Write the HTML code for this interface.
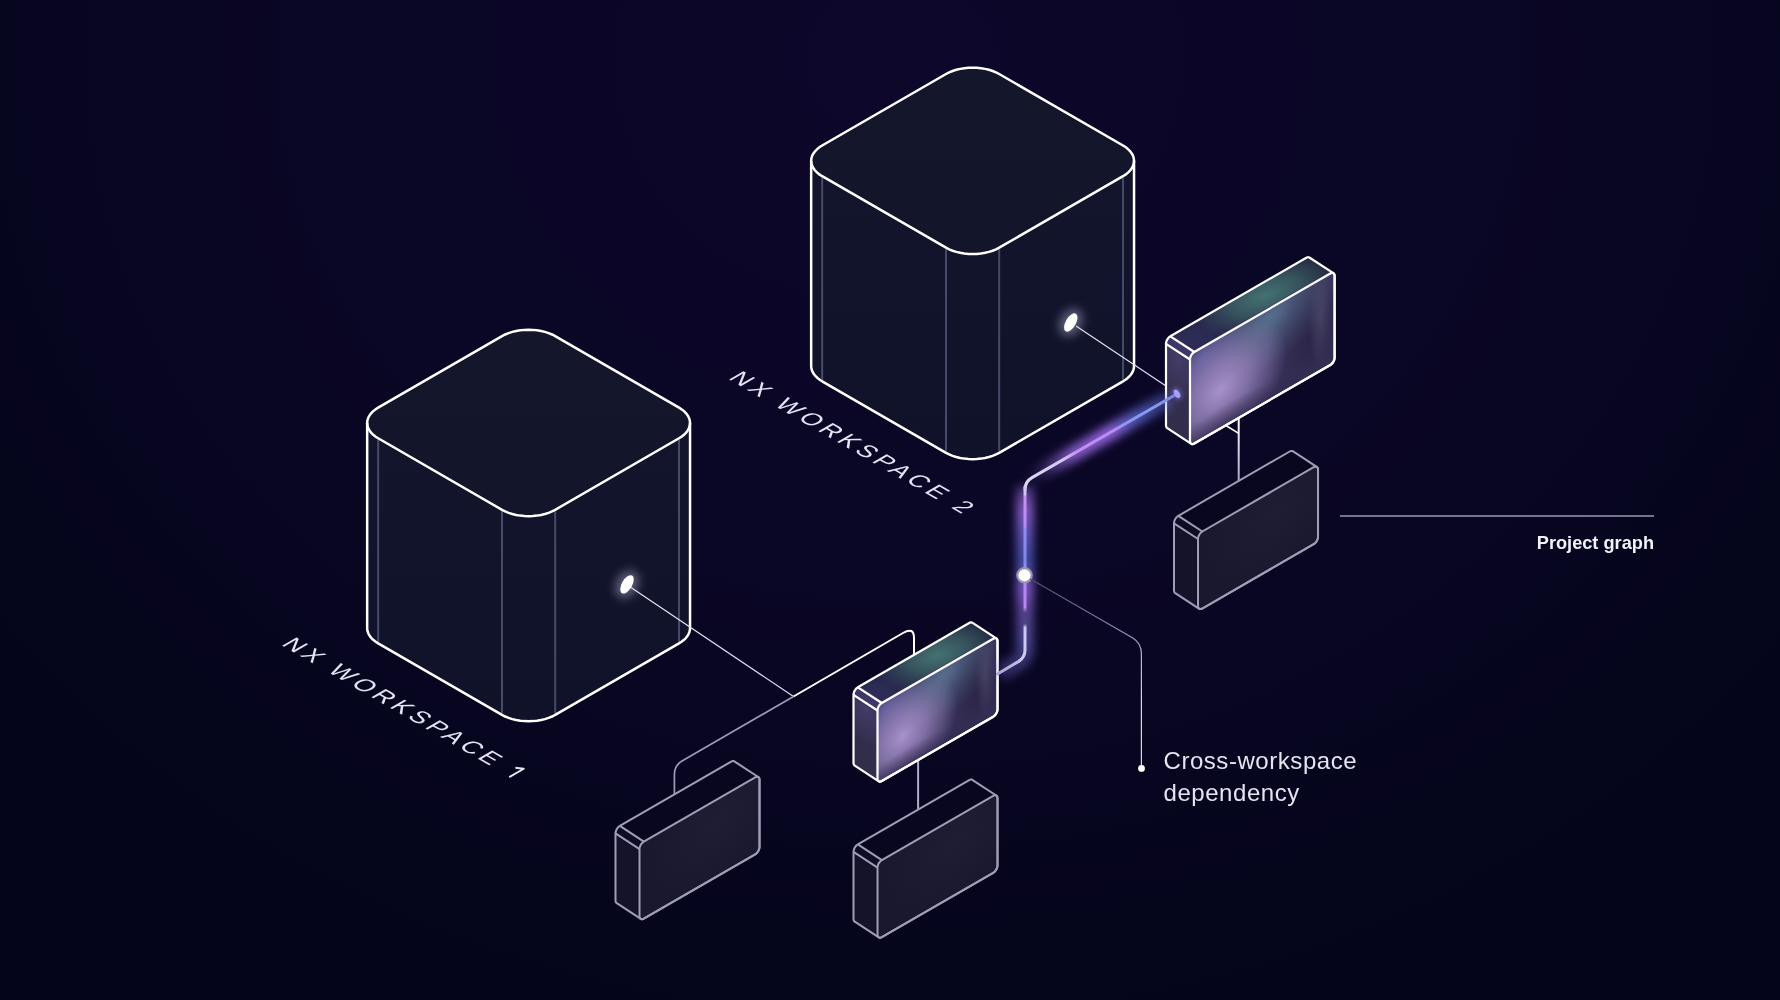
<!DOCTYPE html>
<html><head><meta charset="utf-8">
<style>
html,body{margin:0;padding:0;background:#05061a;}
body{width:1780px;height:1000px;overflow:hidden;position:relative;}
svg{position:absolute;left:0;top:0;display:block;}
.lbl{font-family:"Liberation Sans",sans-serif;}
</style></head><body>
<svg width="1780" height="1000" viewBox="0 0 1780 1000">
<defs>
  <radialGradient id="bg" gradientUnits="userSpaceOnUse" cx="0" cy="0" r="1" gradientTransform="translate(900 60) scale(1150 1000)">
    <stop offset="0" stop-color="#0d072b"/>
    <stop offset="0.5" stop-color="#0a0625"/>
    <stop offset="1" stop-color="#04051a"/>
  </radialGradient>
  <filter id="blur5" filterUnits="userSpaceOnUse" x="0" y="0" width="1780" height="1000"><feGaussianBlur stdDeviation="5"/></filter>
  <filter id="blur3" x="-100%" y="-100%" width="300%" height="300%"><feGaussianBlur stdDeviation="3.5"/></filter>
  <filter id="blur2" x="-100%" y="-100%" width="300%" height="300%"><feGaussianBlur stdDeviation="2"/></filter>
  <linearGradient id="cs1" gradientUnits="userSpaceOnUse" x1="0" y1="422.95" x2="0" y2="728.05"><stop offset="0" stop-color="#12152c"/><stop offset="1" stop-color="#0f1228"/></linearGradient><linearGradient id="ct2" gradientUnits="userSpaceOnUse" x1="0" y1="322.95" x2="0" y2="522.95"><stop offset="0" stop-color="#14172c"/><stop offset="1" stop-color="#13162b"/></linearGradient><linearGradient id="cs3" gradientUnits="userSpaceOnUse" x1="0" y1="160.85" x2="0" y2="465.95"><stop offset="0" stop-color="#12152c"/><stop offset="1" stop-color="#0f1228"/></linearGradient><linearGradient id="ct4" gradientUnits="userSpaceOnUse" x1="0" y1="60.85" x2="0" y2="260.85"><stop offset="0" stop-color="#14172c"/><stop offset="1" stop-color="#13162b"/></linearGradient><clipPath id="clip5"><path d="M1166 343.8 L1166.08 342.78 L1166.33 341.7 L1166.73 340.6 L1167.27 339.53 L1167.92 338.53 L1168.67 337.64 L1169.48 336.88 L1170.33 336.3 L1306.3 257.8 L1307.14 257.41 L1307.95 257.22 L1308.7 257.25 L1309.36 257.5 L1333.36 273.2 L1333.9 273.64 L1334.3 274.28 L1334.54 275.07 L1334.63 276 L1334.63 357.5 L1334.54 358.52 L1334.3 359.6 L1333.9 360.7 L1333.36 361.77 L1332.7 362.77 L1331.95 363.66 L1331.14 364.42 L1330.3 365 L1194.33 443.5 L1193.48 443.89 L1192.67 444.08 L1191.92 444.05 L1191.27 443.8 L1167.27 428.1 L1166.73 427.66 L1166.33 427.02 L1166.08 426.23 L1166 425.3 Z"/></clipPath><radialGradient id="rg6" gradientUnits="userSpaceOnUse" cx="0" cy="0" r="1" gradientTransform="matrix(0.8660 -0.5000 0.8660 0.5000 1166 338.8) translate(100.2 13.85) scale(70.14 41.55)"><stop offset="0" stop-color="#447272" stop-opacity="1.0"/><stop offset="0.5" stop-color="#447272" stop-opacity="0.6"/><stop offset="1" stop-color="#447272" stop-opacity="0.0"/></radialGradient><radialGradient id="rg7" gradientUnits="userSpaceOnUse" cx="0" cy="0" r="1" gradientTransform="matrix(0.8660 -0.5000 0.8660 0.5000 1166 338.8) translate(13.36 16.62) scale(53.44 41.55)"><stop offset="0" stop-color="#36336e" stop-opacity="0.6"/><stop offset="1" stop-color="#36336e" stop-opacity="0.0"/></radialGradient><radialGradient id="rg8" gradientUnits="userSpaceOnUse" cx="0" cy="0" r="1" gradientTransform="matrix(0.8660 0.5000 0.0000 1.0000 1166 338.8) translate(13.85 13.72) scale(36.01 41.18)"><stop offset="0" stop-color="#46406e" stop-opacity="0.8"/><stop offset="1" stop-color="#46406e" stop-opacity="0.0"/></radialGradient><radialGradient id="rg9" gradientUnits="userSpaceOnUse" cx="0" cy="0" r="1" gradientTransform="matrix(0.8660 -0.5000 0.0000 1.0000 1190 354.5) translate(91.85 9.15) scale(80.16 50.33)"><stop offset="0" stop-color="#58708f" stop-opacity="0.95"/><stop offset="1" stop-color="#58708f" stop-opacity="0.0"/></radialGradient><radialGradient id="rg10" gradientUnits="userSpaceOnUse" cx="0" cy="0" r="1" gradientTransform="matrix(0.8660 -0.5000 0.0000 1.0000 1190 354.5) translate(13.36 10.98) scale(50.1 45.75)"><stop offset="0" stop-color="#6462a4" stop-opacity="0.75"/><stop offset="1" stop-color="#6462a4" stop-opacity="0.0"/></radialGradient><radialGradient id="rg11" gradientUnits="userSpaceOnUse" cx="0" cy="0" r="1" gradientTransform="matrix(0.8660 -0.5000 0.0000 1.0000 1190 354.5) translate(140.28 53.07) scale(50.1 64.05)"><stop offset="0" stop-color="#221e3a" stop-opacity="0.6"/><stop offset="1" stop-color="#221e3a" stop-opacity="0.0"/></radialGradient><radialGradient id="rg12" gradientUnits="userSpaceOnUse" cx="0" cy="0" r="1" gradientTransform="matrix(0.8660 -0.5000 0.0000 1.0000 1190 354.5) translate(35.07 53.07) scale(76.82 58.56)"><stop offset="0" stop-color="#a892cc" stop-opacity="1.0"/><stop offset="0.45" stop-color="#a892cc" stop-opacity="0.62"/><stop offset="1" stop-color="#a892cc" stop-opacity="0.0"/></radialGradient><radialGradient id="rg13" gradientUnits="userSpaceOnUse" cx="0" cy="0" r="1" gradientTransform="matrix(0.8660 -0.5000 0.0000 1.0000 1190 354.5) translate(150.3 36.6) scale(13.36 50.33)"><stop offset="0" stop-color="#5a5878" stop-opacity="0.5"/><stop offset="1" stop-color="#5a5878" stop-opacity="0.0"/></radialGradient><radialGradient id="rg14" gradientUnits="userSpaceOnUse" cx="0" cy="0" r="1" gradientTransform="matrix(0.8660 -0.5000 0.0000 1.0000 1190 354.5) translate(46.76 96.99) scale(91.85 27.45)"><stop offset="0" stop-color="#2a2044" stop-opacity="0.8"/><stop offset="1" stop-color="#2a2044" stop-opacity="0.0"/></radialGradient><clipPath id="clip15"><path d="M1174 523.3 L1174.08 522.28 L1174.33 521.2 L1174.73 520.1 L1175.27 519.03 L1175.92 518.03 L1176.67 517.14 L1177.48 516.38 L1178.33 515.8 L1289.7 451.5 L1290.55 451.11 L1291.36 450.92 L1292.11 450.95 L1292.76 451.2 L1316.76 466.9 L1317.3 467.34 L1317.7 467.98 L1317.95 468.77 L1318.03 469.7 L1318.03 536.7 L1317.95 537.72 L1317.7 538.8 L1317.3 539.9 L1316.76 540.97 L1316.11 541.97 L1315.36 542.86 L1314.55 543.62 L1313.7 544.2 L1202.33 608.5 L1201.48 608.89 L1200.67 609.08 L1199.92 609.05 L1199.27 608.8 L1175.27 593.1 L1174.73 592.66 L1174.33 592.02 L1174.08 591.23 L1174 590.3 Z"/></clipPath><radialGradient id="rg16" gradientUnits="userSpaceOnUse" cx="0" cy="0" r="1" gradientTransform="matrix(0.8660 -0.5000 0.0000 1.0000 1198 534) translate(90.09 23.1) scale(83.16 61.6)"><stop offset="0" stop-color="#1f1e35" stop-opacity="0.9"/><stop offset="1" stop-color="#1f1e35" stop-opacity="0.0"/></radialGradient><clipPath id="clip17"><path d="M853.5 694.8 L853.58 693.78 L853.83 692.7 L854.23 691.6 L854.77 690.53 L855.42 689.53 L856.17 688.64 L856.99 687.88 L857.83 687.3 L969.2 623 L970.05 622.61 L970.86 622.42 L971.61 622.45 L972.26 622.7 L996.26 638.4 L996.8 638.84 L997.2 639.48 L997.45 640.27 L997.53 641.2 L997.53 709.2 L997.45 710.22 L997.2 711.3 L996.8 712.4 L996.26 713.47 L995.61 714.47 L994.86 715.36 L994.05 716.12 L993.2 716.7 L881.83 781 L880.99 781.39 L880.17 781.58 L879.42 781.55 L878.77 781.3 L854.77 765.6 L854.23 765.16 L853.83 764.52 L853.58 763.73 L853.5 762.8 Z"/></clipPath><radialGradient id="rg18" gradientUnits="userSpaceOnUse" cx="0" cy="0" r="1" gradientTransform="matrix(0.8660 -0.5000 0.8660 0.5000 853.5 689.8) translate(83.16 13.85) scale(58.21 41.55)"><stop offset="0" stop-color="#447272" stop-opacity="1.0"/><stop offset="0.5" stop-color="#447272" stop-opacity="0.6"/><stop offset="1" stop-color="#447272" stop-opacity="0.0"/></radialGradient><radialGradient id="rg19" gradientUnits="userSpaceOnUse" cx="0" cy="0" r="1" gradientTransform="matrix(0.8660 -0.5000 0.8660 0.5000 853.5 689.8) translate(11.09 16.62) scale(44.35 41.55)"><stop offset="0" stop-color="#36336e" stop-opacity="0.6"/><stop offset="1" stop-color="#36336e" stop-opacity="0.0"/></radialGradient><radialGradient id="rg20" gradientUnits="userSpaceOnUse" cx="0" cy="0" r="1" gradientTransform="matrix(0.8660 0.5000 0.0000 1.0000 853.5 689.8) translate(13.85 11.7) scale(36.01 35.1)"><stop offset="0" stop-color="#46406e" stop-opacity="0.8"/><stop offset="1" stop-color="#46406e" stop-opacity="0.0"/></radialGradient><radialGradient id="rg21" gradientUnits="userSpaceOnUse" cx="0" cy="0" r="1" gradientTransform="matrix(0.8660 -0.5000 0.0000 1.0000 877.5 705.5) translate(76.23 7.8) scale(66.53 42.9)"><stop offset="0" stop-color="#58708f" stop-opacity="0.95"/><stop offset="1" stop-color="#58708f" stop-opacity="0.0"/></radialGradient><radialGradient id="rg22" gradientUnits="userSpaceOnUse" cx="0" cy="0" r="1" gradientTransform="matrix(0.8660 -0.5000 0.0000 1.0000 877.5 705.5) translate(11.09 9.36) scale(41.58 39)"><stop offset="0" stop-color="#6462a4" stop-opacity="0.75"/><stop offset="1" stop-color="#6462a4" stop-opacity="0.0"/></radialGradient><radialGradient id="rg23" gradientUnits="userSpaceOnUse" cx="0" cy="0" r="1" gradientTransform="matrix(0.8660 -0.5000 0.0000 1.0000 877.5 705.5) translate(116.42 45.24) scale(41.58 54.6)"><stop offset="0" stop-color="#221e3a" stop-opacity="0.6"/><stop offset="1" stop-color="#221e3a" stop-opacity="0.0"/></radialGradient><radialGradient id="rg24" gradientUnits="userSpaceOnUse" cx="0" cy="0" r="1" gradientTransform="matrix(0.8660 -0.5000 0.0000 1.0000 877.5 705.5) translate(29.11 45.24) scale(63.76 49.92)"><stop offset="0" stop-color="#a892cc" stop-opacity="1.0"/><stop offset="0.45" stop-color="#a892cc" stop-opacity="0.62"/><stop offset="1" stop-color="#a892cc" stop-opacity="0.0"/></radialGradient><radialGradient id="rg25" gradientUnits="userSpaceOnUse" cx="0" cy="0" r="1" gradientTransform="matrix(0.8660 -0.5000 0.0000 1.0000 877.5 705.5) translate(124.74 31.2) scale(11.09 42.9)"><stop offset="0" stop-color="#5a5878" stop-opacity="0.5"/><stop offset="1" stop-color="#5a5878" stop-opacity="0.0"/></radialGradient><radialGradient id="rg26" gradientUnits="userSpaceOnUse" cx="0" cy="0" r="1" gradientTransform="matrix(0.8660 -0.5000 0.0000 1.0000 877.5 705.5) translate(38.81 82.68) scale(76.23 23.4)"><stop offset="0" stop-color="#2a2044" stop-opacity="0.8"/><stop offset="1" stop-color="#2a2044" stop-opacity="0.0"/></radialGradient><clipPath id="clip27"><path d="M853.5 851.9 L853.58 850.88 L853.83 849.8 L854.23 848.7 L854.77 847.63 L855.42 846.63 L856.17 845.74 L856.99 844.98 L857.83 844.4 L969.2 780.1 L970.05 779.71 L970.86 779.52 L971.61 779.55 L972.26 779.8 L996.26 795.5 L996.8 795.94 L997.2 796.58 L997.45 797.37 L997.53 798.3 L997.53 865.3 L997.45 866.32 L997.2 867.4 L996.8 868.5 L996.26 869.57 L995.61 870.57 L994.86 871.46 L994.05 872.22 L993.2 872.8 L881.83 937.1 L880.99 937.49 L880.17 937.68 L879.42 937.65 L878.77 937.4 L854.77 921.7 L854.23 921.26 L853.83 920.62 L853.58 919.83 L853.5 918.9 Z"/></clipPath><radialGradient id="rg28" gradientUnits="userSpaceOnUse" cx="0" cy="0" r="1" gradientTransform="matrix(0.8660 -0.5000 0.0000 1.0000 877.5 862.6) translate(90.09 23.1) scale(83.16 61.6)"><stop offset="0" stop-color="#1f1e35" stop-opacity="0.9"/><stop offset="1" stop-color="#1f1e35" stop-opacity="0.0"/></radialGradient><clipPath id="clip29"><path d="M615.5 833.4 L615.58 832.38 L615.83 831.3 L616.23 830.2 L616.77 829.13 L617.42 828.13 L618.17 827.24 L618.99 826.48 L619.83 825.9 L731.2 761.6 L732.05 761.21 L732.86 761.02 L733.61 761.05 L734.26 761.3 L758.26 777 L758.8 777.44 L759.2 778.08 L759.45 778.87 L759.53 779.8 L759.53 846.8 L759.45 847.82 L759.2 848.9 L758.8 850 L758.26 851.07 L757.61 852.07 L756.86 852.96 L756.05 853.72 L755.2 854.3 L643.83 918.6 L642.99 918.99 L642.17 919.18 L641.42 919.15 L640.77 918.9 L616.77 903.2 L616.23 902.76 L615.83 902.12 L615.58 901.33 L615.5 900.4 Z"/></clipPath><radialGradient id="rg30" gradientUnits="userSpaceOnUse" cx="0" cy="0" r="1" gradientTransform="matrix(0.8660 -0.5000 0.0000 1.0000 639.5 844.1) translate(90.09 23.1) scale(83.16 61.6)"><stop offset="0" stop-color="#1f1e35" stop-opacity="0.9"/><stop offset="1" stop-color="#1f1e35" stop-opacity="0.0"/></radialGradient><linearGradient id="gdiag" gradientUnits="userSpaceOnUse" x1="1176.8" y1="394" x2="1027" y2="480.5"><stop offset="0" stop-color="#7a86d8"/><stop offset="0.12" stop-color="#8498f6"/><stop offset="0.36" stop-color="#8898f6"/><stop offset="0.41" stop-color="#b88af6"/><stop offset="0.66" stop-color="#c28ef4"/><stop offset="0.76" stop-color="#d4c6f2"/><stop offset="1" stop-color="#dcd6f2"/></linearGradient><linearGradient id="gvert" gradientUnits="userSpaceOnUse" x1="0" y1="480" x2="0" y2="662"><stop offset="0" stop-color="#d6d0f0"/><stop offset="0.08" stop-color="#d0c4f0"/><stop offset="0.09" stop-color="#c492f2"/><stop offset="0.25" stop-color="#b48cf0"/><stop offset="0.27" stop-color="#8e8ef0"/><stop offset="0.44" stop-color="#8088e8"/><stop offset="0.5" stop-color="#9a96d8"/><stop offset="0.57" stop-color="#b488f0"/><stop offset="0.7" stop-color="#b488f0"/><stop offset="0.73" stop-color="#4a3f80"/><stop offset="0.79" stop-color="#4a4688"/><stop offset="0.81" stop-color="#c8c6f0"/><stop offset="1" stop-color="#cecaf0"/></linearGradient><linearGradient id="gbot" gradientUnits="userSpaceOnUse" x1="1025" y1="659" x2="998" y2="677"><stop offset="0" stop-color="#c8c4ec"/><stop offset="1" stop-color="#a8a4d0"/></linearGradient><linearGradient id="hdiag" gradientUnits="userSpaceOnUse" x1="1176.8" y1="394" x2="1027" y2="480.5"><stop offset="0" stop-color="#6a78e8" stop-opacity="0.3"/><stop offset="0.25" stop-color="#6a78e8" stop-opacity="0.65"/><stop offset="0.45" stop-color="#9a6ae8" stop-opacity="0.9"/><stop offset="0.7" stop-color="#9a6ae0" stop-opacity="0.8"/><stop offset="0.9" stop-color="#8a70d0" stop-opacity="0.2"/><stop offset="1" stop-color="#8a70d0" stop-opacity="0"/></linearGradient><linearGradient id="hvert" gradientUnits="userSpaceOnUse" x1="0" y1="480" x2="0" y2="680"><stop offset="0" stop-color="#9a70e0" stop-opacity="0.3"/><stop offset="0.15" stop-color="#9a6ae0" stop-opacity="0.85"/><stop offset="0.4" stop-color="#5a68d8" stop-opacity="0.7"/><stop offset="0.55" stop-color="#9a6ae8" stop-opacity="0.8"/><stop offset="0.66" stop-color="#8a68d8" stop-opacity="0.6"/><stop offset="0.8" stop-color="#6a66c8" stop-opacity="0.65"/><stop offset="1" stop-color="#6a66c8" stop-opacity="0.3"/></linearGradient>
</defs>
<rect width="1780" height="1000" fill="url(#bg)"/>

<path d="M811.16 365.95 L811.34 368.08 L811.88 370.19 L812.78 372.25 L814.02 374.26 L815.6 376.18 L817.5 378.01 L819.69 379.72 L822.17 381.3 L946.01 452.8 L949.16 454.42 L952.6 455.83 L956.29 457.01 L960.18 457.94 L964.23 458.61 L968.39 459.02 L972.6 459.16 L976.81 459.02 L980.97 458.61 L985.02 457.94 L988.91 457.01 L992.6 455.83 L996.04 454.42 L999.19 452.8 L1123.03 381.3 L1125.51 379.72 L1127.7 378.01 L1129.6 376.18 L1131.18 374.26 L1132.42 372.25 L1133.32 370.19 L1133.86 368.08 L1134.04 365.95 L1134.04 160.85 L1133.86 158.72 L1133.32 156.61 L1132.42 154.55 L1131.18 152.54 L1129.6 150.62 L1127.7 148.79 L1125.51 147.08 L1123.03 145.5 L999.19 74 L996.04 72.38 L992.6 70.97 L988.91 69.79 L985.02 68.86 L980.97 68.19 L976.81 67.78 L972.6 67.64 L968.39 67.78 L964.23 68.19 L960.18 68.86 L956.29 69.79 L952.6 70.97 L949.16 72.38 L946.01 74 L822.17 145.5 L819.69 147.08 L817.5 148.79 L815.6 150.62 L814.02 152.54 L812.78 154.55 L811.88 156.61 L811.34 158.72 L811.16 160.85 Z" fill="url(#cs3)"/>
<path d="M1123.03 145.5 L1125.84 147.32 L1128.28 149.3 L1130.32 151.43 L1131.93 153.68 L1133.1 156.02 L1133.8 158.42 L1134.04 160.85 L1133.8 163.28 L1133.1 165.68 L1131.93 168.02 L1130.32 170.27 L1128.28 172.4 L1125.84 174.38 L1123.03 176.2 L999.19 247.7 L996.04 249.32 L992.6 250.73 L988.91 251.91 L985.02 252.84 L980.97 253.51 L976.81 253.92 L972.6 254.06 L968.39 253.92 L964.23 253.51 L960.18 252.84 L956.29 251.91 L952.6 250.73 L949.16 249.32 L946.01 247.7 L822.17 176.2 L819.36 174.38 L816.92 172.4 L814.88 170.27 L813.27 168.02 L812.1 165.68 L811.4 163.28 L811.16 160.85 L811.4 158.42 L812.1 156.02 L813.27 153.68 L814.88 151.43 L816.92 149.3 L819.36 147.32 L822.17 145.5 L946.01 74 L949.16 72.38 L952.6 70.97 L956.29 69.79 L960.18 68.86 L964.23 68.19 L968.39 67.78 L972.6 67.64 L976.81 67.78 L980.97 68.19 L985.02 68.86 L988.91 69.79 L992.6 70.97 L996.04 72.38 L999.19 74 Z" fill="url(#ct4)"/>
<line x1="822.17" y1="177.7" x2="822.17" y2="379.8" stroke="#474a68" stroke-width="2"/>
<line x1="999.19" y1="249.2" x2="999.19" y2="451.3" stroke="#474a68" stroke-width="2"/>
<line x1="946.01" y1="249.2" x2="946.01" y2="451.3" stroke="#474a68" stroke-width="2"/>
<line x1="1123.03" y1="177.7" x2="1123.03" y2="379.8" stroke="#474a68" stroke-width="2"/>
<path d="M1123.03 145.5 L1125.84 147.32 L1128.28 149.3 L1130.32 151.43 L1131.93 153.68 L1133.1 156.02 L1133.8 158.42 L1134.04 160.85 L1133.8 163.28 L1133.1 165.68 L1131.93 168.02 L1130.32 170.27 L1128.28 172.4 L1125.84 174.38 L1123.03 176.2 L999.19 247.7 L996.04 249.32 L992.6 250.73 L988.91 251.91 L985.02 252.84 L980.97 253.51 L976.81 253.92 L972.6 254.06 L968.39 253.92 L964.23 253.51 L960.18 252.84 L956.29 251.91 L952.6 250.73 L949.16 249.32 L946.01 247.7 L822.17 176.2 L819.36 174.38 L816.92 172.4 L814.88 170.27 L813.27 168.02 L812.1 165.68 L811.4 163.28 L811.16 160.85 L811.4 158.42 L812.1 156.02 L813.27 153.68 L814.88 151.43 L816.92 149.3 L819.36 147.32 L822.17 145.5 L946.01 74 L949.16 72.38 L952.6 70.97 L956.29 69.79 L960.18 68.86 L964.23 68.19 L968.39 67.78 L972.6 67.64 L976.81 67.78 L980.97 68.19 L985.02 68.86 L988.91 69.79 L992.6 70.97 L996.04 72.38 L999.19 74 Z" fill="none" stroke="#fff" stroke-width="2.5"/>
<path d="M811.16 160.85 L811.16 365.95 L811.34 368.08 L811.88 370.19 L812.78 372.25 L814.02 374.26 L815.6 376.18 L817.5 378.01 L819.69 379.72 L822.17 381.3 L946.01 452.8 L949.16 454.42 L952.6 455.83 L956.29 457.01 L960.18 457.94 L964.23 458.61 L968.39 459.02 L972.6 459.16 L976.81 459.02 L980.97 458.61 L985.02 457.94 L988.91 457.01 L992.6 455.83 L996.04 454.42 L999.19 452.8 L1123.03 381.3 L1125.51 379.72 L1127.7 378.01 L1129.6 376.18 L1131.18 374.26 L1132.42 372.25 L1133.32 370.19 L1133.86 368.08 L1134.04 365.95 L1134.04 160.85" fill="none" stroke="#fff" stroke-width="2.5" stroke-linejoin="round"/>
<path d="M367.16 628.05 L367.34 630.18 L367.88 632.29 L368.78 634.35 L370.02 636.36 L371.6 638.28 L373.5 640.11 L375.69 641.82 L378.17 643.4 L502.01 714.9 L505.16 716.52 L508.6 717.93 L512.29 719.11 L516.18 720.04 L520.23 720.71 L524.39 721.12 L528.6 721.26 L532.81 721.12 L536.97 720.71 L541.02 720.04 L544.91 719.11 L548.6 717.93 L552.04 716.52 L555.19 714.9 L679.03 643.4 L681.51 641.82 L683.7 640.11 L685.6 638.28 L687.18 636.36 L688.42 634.35 L689.32 632.29 L689.86 630.18 L690.04 628.05 L690.04 422.95 L689.86 420.82 L689.32 418.71 L688.42 416.65 L687.18 414.64 L685.6 412.72 L683.7 410.89 L681.51 409.18 L679.03 407.6 L555.19 336.1 L552.04 334.48 L548.6 333.07 L544.91 331.89 L541.02 330.96 L536.97 330.29 L532.81 329.88 L528.6 329.74 L524.39 329.88 L520.23 330.29 L516.18 330.96 L512.29 331.89 L508.6 333.07 L505.16 334.48 L502.01 336.1 L378.17 407.6 L375.69 409.18 L373.5 410.89 L371.6 412.72 L370.02 414.64 L368.78 416.65 L367.88 418.71 L367.34 420.82 L367.16 422.95 Z" fill="url(#cs1)"/>
<path d="M679.03 407.6 L681.84 409.42 L684.28 411.4 L686.32 413.53 L687.93 415.78 L689.1 418.12 L689.8 420.52 L690.04 422.95 L689.8 425.38 L689.1 427.78 L687.93 430.12 L686.32 432.37 L684.28 434.5 L681.84 436.48 L679.03 438.3 L555.19 509.8 L552.04 511.42 L548.6 512.83 L544.91 514.01 L541.02 514.94 L536.97 515.61 L532.81 516.02 L528.6 516.16 L524.39 516.02 L520.23 515.61 L516.18 514.94 L512.29 514.01 L508.6 512.83 L505.16 511.42 L502.01 509.8 L378.17 438.3 L375.36 436.48 L372.92 434.5 L370.88 432.37 L369.27 430.12 L368.1 427.78 L367.4 425.38 L367.16 422.95 L367.4 420.52 L368.1 418.12 L369.27 415.78 L370.88 413.53 L372.92 411.4 L375.36 409.42 L378.17 407.6 L502.01 336.1 L505.16 334.48 L508.6 333.07 L512.29 331.89 L516.18 330.96 L520.23 330.29 L524.39 329.88 L528.6 329.74 L532.81 329.88 L536.97 330.29 L541.02 330.96 L544.91 331.89 L548.6 333.07 L552.04 334.48 L555.19 336.1 Z" fill="url(#ct2)"/>
<line x1="378.17" y1="439.8" x2="378.17" y2="641.9" stroke="#474a68" stroke-width="2"/>
<line x1="555.19" y1="511.3" x2="555.19" y2="713.4" stroke="#474a68" stroke-width="2"/>
<line x1="502.01" y1="511.3" x2="502.01" y2="713.4" stroke="#474a68" stroke-width="2"/>
<line x1="679.03" y1="439.8" x2="679.03" y2="641.9" stroke="#474a68" stroke-width="2"/>
<path d="M679.03 407.6 L681.84 409.42 L684.28 411.4 L686.32 413.53 L687.93 415.78 L689.1 418.12 L689.8 420.52 L690.04 422.95 L689.8 425.38 L689.1 427.78 L687.93 430.12 L686.32 432.37 L684.28 434.5 L681.84 436.48 L679.03 438.3 L555.19 509.8 L552.04 511.42 L548.6 512.83 L544.91 514.01 L541.02 514.94 L536.97 515.61 L532.81 516.02 L528.6 516.16 L524.39 516.02 L520.23 515.61 L516.18 514.94 L512.29 514.01 L508.6 512.83 L505.16 511.42 L502.01 509.8 L378.17 438.3 L375.36 436.48 L372.92 434.5 L370.88 432.37 L369.27 430.12 L368.1 427.78 L367.4 425.38 L367.16 422.95 L367.4 420.52 L368.1 418.12 L369.27 415.78 L370.88 413.53 L372.92 411.4 L375.36 409.42 L378.17 407.6 L502.01 336.1 L505.16 334.48 L508.6 333.07 L512.29 331.89 L516.18 330.96 L520.23 330.29 L524.39 329.88 L528.6 329.74 L532.81 329.88 L536.97 330.29 L541.02 330.96 L544.91 331.89 L548.6 333.07 L552.04 334.48 L555.19 336.1 Z" fill="none" stroke="#fff" stroke-width="2.5"/>
<path d="M367.16 422.95 L367.16 628.05 L367.34 630.18 L367.88 632.29 L368.78 634.35 L370.02 636.36 L371.6 638.28 L373.5 640.11 L375.69 641.82 L378.17 643.4 L502.01 714.9 L505.16 716.52 L508.6 717.93 L512.29 719.11 L516.18 720.04 L520.23 720.71 L524.39 721.12 L528.6 721.26 L532.81 721.12 L536.97 720.71 L541.02 720.04 L544.91 719.11 L548.6 717.93 L552.04 716.52 L555.19 714.9 L679.03 643.4 L681.51 641.82 L683.7 640.11 L685.6 638.28 L687.18 636.36 L688.42 634.35 L689.32 632.29 L689.86 630.18 L690.04 628.05 L690.04 422.95" fill="none" stroke="#fff" stroke-width="2.5" stroke-linejoin="round"/>

<!-- connectors -->
<line x1="1076" y1="326" x2="1166" y2="386" stroke="#e6e4f4" stroke-width="1.2"/>
<line x1="631" y1="587.5" x2="793.5" y2="696.5" stroke="#e6e4f4" stroke-width="1.2"/>
<path d="M793.5 696.5 L903 633 Q914 626.5 914 638 L914 660" fill="none" stroke="#fff" stroke-width="2"/>
<path d="M793.5 696.5 L682 761 Q674.4 765.5 674.4 774 L674.4 795" fill="none" stroke="#9d99b8" stroke-width="1.7"/>
<defs><linearGradient id="vcon" gradientUnits="userSpaceOnUse" x1="0" y1="420" x2="0" y2="480"><stop offset="0" stop-color="#ffffff"/><stop offset="1" stop-color="#aaa6c4"/></linearGradient></defs>
<line x1="1238.7" y1="415" x2="1238.7" y2="482" stroke="url(#vcon)" stroke-width="2"/>
<line x1="1225.5" y1="425.2" x2="1238.7" y2="433.4" stroke="#ffffff" stroke-width="1.6"/>
<line x1="918.1" y1="755" x2="918.1" y2="810" stroke="#b0accb" stroke-width="2"/>

<g clip-path="url(#clip15)">
<path d="M1174 523.3 L1174.08 522.28 L1174.33 521.2 L1174.73 520.1 L1175.27 519.03 L1175.92 518.03 L1176.67 517.14 L1177.48 516.38 L1178.33 515.8 L1289.7 451.5 L1290.55 451.11 L1291.36 450.92 L1292.11 450.95 L1292.76 451.2 L1316.76 466.9 L1317.3 467.34 L1317.7 467.98 L1317.95 468.77 L1318.03 469.7 L1318.03 536.7 L1317.95 537.72 L1317.7 538.8 L1317.3 539.9 L1316.76 540.97 L1316.11 541.97 L1315.36 542.86 L1314.55 543.62 L1313.7 544.2 L1202.33 608.5 L1201.48 608.89 L1200.67 609.08 L1199.92 609.05 L1199.27 608.8 L1175.27 593.1 L1174.73 592.66 L1174.33 592.02 L1174.08 591.23 L1174 590.3 Z" fill="#0d0c24"/>
<path d="M1178.33 513.8 L1297.5 445 L1321.5 460.7 L1202.33 529.5 Z" fill="#08071f"/>
<path d="M1172.27 524.3 L1172.27 600.3 L1196.27 616 L1196.27 540 Z" fill="#14132a"/>
<path d="M1313.7 467.2 L1314.55 466.81 L1315.36 466.62 L1316.11 466.65 L1316.76 466.9 L1317.3 467.34 L1317.7 467.98 L1317.95 468.77 L1318.03 469.7 L1318.03 536.7 L1317.95 537.72 L1317.7 538.8 L1317.3 539.9 L1316.76 540.97 L1316.11 541.97 L1315.36 542.86 L1314.55 543.62 L1313.7 544.2 L1202.33 608.5 L1201.49 608.89 L1200.67 609.08 L1199.92 609.05 L1199.27 608.8 L1198.73 608.36 L1198.33 607.72 L1198.08 606.93 L1198 606 L1198 539 L1198.08 537.98 L1198.33 536.9 L1198.73 535.8 L1199.27 534.73 L1199.92 533.73 L1200.67 532.84 L1201.49 532.08 L1202.33 531.5 Z" fill="#19182e"/>
<path d="M1313.7 467.2 L1314.55 466.81 L1315.36 466.62 L1316.11 466.65 L1316.76 466.9 L1317.3 467.34 L1317.7 467.98 L1317.95 468.77 L1318.03 469.7 L1318.03 536.7 L1317.95 537.72 L1317.7 538.8 L1317.3 539.9 L1316.76 540.97 L1316.11 541.97 L1315.36 542.86 L1314.55 543.62 L1313.7 544.2 L1202.33 608.5 L1201.49 608.89 L1200.67 609.08 L1199.92 609.05 L1199.27 608.8 L1198.73 608.36 L1198.33 607.72 L1198.08 606.93 L1198 606 L1198 539 L1198.08 537.98 L1198.33 536.9 L1198.73 535.8 L1199.27 534.73 L1199.92 533.73 L1200.67 532.84 L1201.49 532.08 L1202.33 531.5 Z" fill="url(#rg16)"/>
</g>
<path d="M1174 523.3 L1174.08 522.28 L1174.33 521.2 L1174.73 520.1 L1175.27 519.03 L1175.92 518.03 L1176.67 517.14 L1177.48 516.38 L1178.33 515.8 L1289.7 451.5 L1290.55 451.11 L1291.36 450.92 L1292.11 450.95 L1292.76 451.2 L1316.76 466.9 L1317.3 467.34 L1317.7 467.98 L1317.95 468.77 L1318.03 469.7 L1318.03 536.7 L1317.95 537.72 L1317.7 538.8 L1317.3 539.9 L1316.76 540.97 L1316.11 541.97 L1315.36 542.86 L1314.55 543.62 L1313.7 544.2 L1202.33 608.5 L1201.48 608.89 L1200.67 609.08 L1199.92 609.05 L1199.27 608.8 L1175.27 593.1 L1174.73 592.66 L1174.33 592.02 L1174.08 591.23 L1174 590.3 Z" fill="none" stroke="#a09db6" stroke-width="2" stroke-linejoin="round"/>
<path d="M1313.7 467.2 L1314.55 466.81 L1315.36 466.62 L1316.11 466.65 L1316.76 466.9 L1317.3 467.34 L1317.7 467.98 L1317.95 468.77 L1318.03 469.7 L1318.03 536.7 L1317.95 537.72 L1317.7 538.8 L1317.3 539.9 L1316.76 540.97 L1316.11 541.97 L1315.36 542.86 L1314.55 543.62 L1313.7 544.2 L1202.33 608.5 L1201.49 608.89 L1200.67 609.08 L1199.92 609.05 L1199.27 608.8 L1198.73 608.36 L1198.33 607.72 L1198.08 606.93 L1198 606 L1198 539 L1198.08 537.98 L1198.33 536.9 L1198.73 535.8 L1199.27 534.73 L1199.92 533.73 L1200.67 532.84 L1201.49 532.08 L1202.33 531.5 Z" fill="none" stroke="#a09db6" stroke-width="2"/>
<line x1="1202.33" y1="531.5" x2="1178.33" y2="515.8" stroke="#a09db6" stroke-width="2"/>
<line x1="1198" y1="539" x2="1174" y2="523.3" stroke="#a09db6" stroke-width="2"/>
<g clip-path="url(#clip5)">
<path d="M1166 343.8 L1166.08 342.78 L1166.33 341.7 L1166.73 340.6 L1167.27 339.53 L1167.92 338.53 L1168.67 337.64 L1169.48 336.88 L1170.33 336.3 L1306.3 257.8 L1307.14 257.41 L1307.95 257.22 L1308.7 257.25 L1309.36 257.5 L1333.36 273.2 L1333.9 273.64 L1334.3 274.28 L1334.54 275.07 L1334.63 276 L1334.63 357.5 L1334.54 358.52 L1334.3 359.6 L1333.9 360.7 L1333.36 361.77 L1332.7 362.77 L1331.95 363.66 L1331.14 364.42 L1330.3 365 L1194.33 443.5 L1193.48 443.89 L1192.67 444.08 L1191.92 444.05 L1191.27 443.8 L1167.27 428.1 L1166.73 427.66 L1166.33 427.02 L1166.08 426.23 L1166 425.3 Z" fill="#3e3868"/>
<path d="M1170.33 334.3 L1314.09 251.3 L1338.09 267 L1194.33 350 Z" fill="#22243e"/>
<path d="M1170.33 334.3 L1314.09 251.3 L1338.09 267 L1194.33 350 Z" fill="url(#rg6)"/>
<path d="M1170.33 334.3 L1314.09 251.3 L1338.09 267 L1194.33 350 Z" fill="url(#rg7)"/>
<path d="M1164.27 344.8 L1164.27 435.3 L1188.27 451 L1188.27 360.5 Z" fill="#332d4c"/>
<path d="M1164.27 344.8 L1164.27 435.3 L1188.27 451 L1188.27 360.5 Z" fill="url(#rg8)"/>
<path d="M1330.3 273.5 L1331.14 273.11 L1331.95 272.92 L1332.7 272.95 L1333.36 273.2 L1333.9 273.64 L1334.3 274.28 L1334.54 275.07 L1334.63 276 L1334.63 357.5 L1334.54 358.52 L1334.3 359.6 L1333.9 360.7 L1333.36 361.77 L1332.7 362.77 L1331.95 363.66 L1331.14 364.42 L1330.3 365 L1194.33 443.5 L1193.49 443.89 L1192.67 444.08 L1191.92 444.05 L1191.27 443.8 L1190.73 443.36 L1190.33 442.72 L1190.08 441.93 L1190 441 L1190 359.5 L1190.08 358.48 L1190.33 357.4 L1190.73 356.3 L1191.27 355.23 L1191.92 354.23 L1192.67 353.34 L1193.49 352.58 L1194.33 352 Z" fill="#38325a"/>
<path d="M1330.3 273.5 L1331.14 273.11 L1331.95 272.92 L1332.7 272.95 L1333.36 273.2 L1333.9 273.64 L1334.3 274.28 L1334.54 275.07 L1334.63 276 L1334.63 357.5 L1334.54 358.52 L1334.3 359.6 L1333.9 360.7 L1333.36 361.77 L1332.7 362.77 L1331.95 363.66 L1331.14 364.42 L1330.3 365 L1194.33 443.5 L1193.49 443.89 L1192.67 444.08 L1191.92 444.05 L1191.27 443.8 L1190.73 443.36 L1190.33 442.72 L1190.08 441.93 L1190 441 L1190 359.5 L1190.08 358.48 L1190.33 357.4 L1190.73 356.3 L1191.27 355.23 L1191.92 354.23 L1192.67 353.34 L1193.49 352.58 L1194.33 352 Z" fill="url(#rg9)"/>
<path d="M1330.3 273.5 L1331.14 273.11 L1331.95 272.92 L1332.7 272.95 L1333.36 273.2 L1333.9 273.64 L1334.3 274.28 L1334.54 275.07 L1334.63 276 L1334.63 357.5 L1334.54 358.52 L1334.3 359.6 L1333.9 360.7 L1333.36 361.77 L1332.7 362.77 L1331.95 363.66 L1331.14 364.42 L1330.3 365 L1194.33 443.5 L1193.49 443.89 L1192.67 444.08 L1191.92 444.05 L1191.27 443.8 L1190.73 443.36 L1190.33 442.72 L1190.08 441.93 L1190 441 L1190 359.5 L1190.08 358.48 L1190.33 357.4 L1190.73 356.3 L1191.27 355.23 L1191.92 354.23 L1192.67 353.34 L1193.49 352.58 L1194.33 352 Z" fill="url(#rg10)"/>
<path d="M1330.3 273.5 L1331.14 273.11 L1331.95 272.92 L1332.7 272.95 L1333.36 273.2 L1333.9 273.64 L1334.3 274.28 L1334.54 275.07 L1334.63 276 L1334.63 357.5 L1334.54 358.52 L1334.3 359.6 L1333.9 360.7 L1333.36 361.77 L1332.7 362.77 L1331.95 363.66 L1331.14 364.42 L1330.3 365 L1194.33 443.5 L1193.49 443.89 L1192.67 444.08 L1191.92 444.05 L1191.27 443.8 L1190.73 443.36 L1190.33 442.72 L1190.08 441.93 L1190 441 L1190 359.5 L1190.08 358.48 L1190.33 357.4 L1190.73 356.3 L1191.27 355.23 L1191.92 354.23 L1192.67 353.34 L1193.49 352.58 L1194.33 352 Z" fill="url(#rg11)"/>
<path d="M1330.3 273.5 L1331.14 273.11 L1331.95 272.92 L1332.7 272.95 L1333.36 273.2 L1333.9 273.64 L1334.3 274.28 L1334.54 275.07 L1334.63 276 L1334.63 357.5 L1334.54 358.52 L1334.3 359.6 L1333.9 360.7 L1333.36 361.77 L1332.7 362.77 L1331.95 363.66 L1331.14 364.42 L1330.3 365 L1194.33 443.5 L1193.49 443.89 L1192.67 444.08 L1191.92 444.05 L1191.27 443.8 L1190.73 443.36 L1190.33 442.72 L1190.08 441.93 L1190 441 L1190 359.5 L1190.08 358.48 L1190.33 357.4 L1190.73 356.3 L1191.27 355.23 L1191.92 354.23 L1192.67 353.34 L1193.49 352.58 L1194.33 352 Z" fill="url(#rg12)"/>
<path d="M1330.3 273.5 L1331.14 273.11 L1331.95 272.92 L1332.7 272.95 L1333.36 273.2 L1333.9 273.64 L1334.3 274.28 L1334.54 275.07 L1334.63 276 L1334.63 357.5 L1334.54 358.52 L1334.3 359.6 L1333.9 360.7 L1333.36 361.77 L1332.7 362.77 L1331.95 363.66 L1331.14 364.42 L1330.3 365 L1194.33 443.5 L1193.49 443.89 L1192.67 444.08 L1191.92 444.05 L1191.27 443.8 L1190.73 443.36 L1190.33 442.72 L1190.08 441.93 L1190 441 L1190 359.5 L1190.08 358.48 L1190.33 357.4 L1190.73 356.3 L1191.27 355.23 L1191.92 354.23 L1192.67 353.34 L1193.49 352.58 L1194.33 352 Z" fill="url(#rg13)"/>
<path d="M1330.3 273.5 L1331.14 273.11 L1331.95 272.92 L1332.7 272.95 L1333.36 273.2 L1333.9 273.64 L1334.3 274.28 L1334.54 275.07 L1334.63 276 L1334.63 357.5 L1334.54 358.52 L1334.3 359.6 L1333.9 360.7 L1333.36 361.77 L1332.7 362.77 L1331.95 363.66 L1331.14 364.42 L1330.3 365 L1194.33 443.5 L1193.49 443.89 L1192.67 444.08 L1191.92 444.05 L1191.27 443.8 L1190.73 443.36 L1190.33 442.72 L1190.08 441.93 L1190 441 L1190 359.5 L1190.08 358.48 L1190.33 357.4 L1190.73 356.3 L1191.27 355.23 L1191.92 354.23 L1192.67 353.34 L1193.49 352.58 L1194.33 352 Z" fill="url(#rg14)"/>
</g>
<path d="M1166 343.8 L1166.08 342.78 L1166.33 341.7 L1166.73 340.6 L1167.27 339.53 L1167.92 338.53 L1168.67 337.64 L1169.48 336.88 L1170.33 336.3 L1306.3 257.8 L1307.14 257.41 L1307.95 257.22 L1308.7 257.25 L1309.36 257.5 L1333.36 273.2 L1333.9 273.64 L1334.3 274.28 L1334.54 275.07 L1334.63 276 L1334.63 357.5 L1334.54 358.52 L1334.3 359.6 L1333.9 360.7 L1333.36 361.77 L1332.7 362.77 L1331.95 363.66 L1331.14 364.42 L1330.3 365 L1194.33 443.5 L1193.48 443.89 L1192.67 444.08 L1191.92 444.05 L1191.27 443.8 L1167.27 428.1 L1166.73 427.66 L1166.33 427.02 L1166.08 426.23 L1166 425.3 Z" fill="none" stroke="#ffffff" stroke-width="2.2" stroke-linejoin="round"/>
<path d="M1330.3 273.5 L1331.14 273.11 L1331.95 272.92 L1332.7 272.95 L1333.36 273.2 L1333.9 273.64 L1334.3 274.28 L1334.54 275.07 L1334.63 276 L1334.63 357.5 L1334.54 358.52 L1334.3 359.6 L1333.9 360.7 L1333.36 361.77 L1332.7 362.77 L1331.95 363.66 L1331.14 364.42 L1330.3 365 L1194.33 443.5 L1193.49 443.89 L1192.67 444.08 L1191.92 444.05 L1191.27 443.8 L1190.73 443.36 L1190.33 442.72 L1190.08 441.93 L1190 441 L1190 359.5 L1190.08 358.48 L1190.33 357.4 L1190.73 356.3 L1191.27 355.23 L1191.92 354.23 L1192.67 353.34 L1193.49 352.58 L1194.33 352 Z" fill="none" stroke="#ffffff" stroke-width="2.2"/>
<line x1="1194.33" y1="352" x2="1170.33" y2="336.3" stroke="#ffffff" stroke-width="2.2"/>
<line x1="1190" y1="359.5" x2="1166" y2="343.8" stroke="#ffffff" stroke-width="2.2"/>
<g clip-path="url(#clip27)">
<path d="M853.5 851.9 L853.58 850.88 L853.83 849.8 L854.23 848.7 L854.77 847.63 L855.42 846.63 L856.17 845.74 L856.99 844.98 L857.83 844.4 L969.2 780.1 L970.05 779.71 L970.86 779.52 L971.61 779.55 L972.26 779.8 L996.26 795.5 L996.8 795.94 L997.2 796.58 L997.45 797.37 L997.53 798.3 L997.53 865.3 L997.45 866.32 L997.2 867.4 L996.8 868.5 L996.26 869.57 L995.61 870.57 L994.86 871.46 L994.05 872.22 L993.2 872.8 L881.83 937.1 L880.99 937.49 L880.17 937.68 L879.42 937.65 L878.77 937.4 L854.77 921.7 L854.23 921.26 L853.83 920.62 L853.58 919.83 L853.5 918.9 Z" fill="#0d0c24"/>
<path d="M857.83 842.4 L977 773.6 L1001 789.3 L881.83 858.1 Z" fill="#08071f"/>
<path d="M851.77 852.9 L851.77 928.9 L875.77 944.6 L875.77 868.6 Z" fill="#14132a"/>
<path d="M993.2 795.8 L994.05 795.41 L994.86 795.22 L995.61 795.25 L996.26 795.5 L996.8 795.94 L997.2 796.58 L997.45 797.37 L997.53 798.3 L997.53 865.3 L997.45 866.32 L997.2 867.4 L996.8 868.5 L996.26 869.57 L995.61 870.57 L994.86 871.46 L994.05 872.22 L993.2 872.8 L881.83 937.1 L880.99 937.49 L880.17 937.68 L879.42 937.65 L878.77 937.4 L878.23 936.96 L877.83 936.32 L877.58 935.53 L877.5 934.6 L877.5 867.6 L877.58 866.58 L877.83 865.5 L878.23 864.4 L878.77 863.33 L879.42 862.33 L880.17 861.44 L880.99 860.68 L881.83 860.1 Z" fill="#19182e"/>
<path d="M993.2 795.8 L994.05 795.41 L994.86 795.22 L995.61 795.25 L996.26 795.5 L996.8 795.94 L997.2 796.58 L997.45 797.37 L997.53 798.3 L997.53 865.3 L997.45 866.32 L997.2 867.4 L996.8 868.5 L996.26 869.57 L995.61 870.57 L994.86 871.46 L994.05 872.22 L993.2 872.8 L881.83 937.1 L880.99 937.49 L880.17 937.68 L879.42 937.65 L878.77 937.4 L878.23 936.96 L877.83 936.32 L877.58 935.53 L877.5 934.6 L877.5 867.6 L877.58 866.58 L877.83 865.5 L878.23 864.4 L878.77 863.33 L879.42 862.33 L880.17 861.44 L880.99 860.68 L881.83 860.1 Z" fill="url(#rg28)"/>
</g>
<path d="M853.5 851.9 L853.58 850.88 L853.83 849.8 L854.23 848.7 L854.77 847.63 L855.42 846.63 L856.17 845.74 L856.99 844.98 L857.83 844.4 L969.2 780.1 L970.05 779.71 L970.86 779.52 L971.61 779.55 L972.26 779.8 L996.26 795.5 L996.8 795.94 L997.2 796.58 L997.45 797.37 L997.53 798.3 L997.53 865.3 L997.45 866.32 L997.2 867.4 L996.8 868.5 L996.26 869.57 L995.61 870.57 L994.86 871.46 L994.05 872.22 L993.2 872.8 L881.83 937.1 L880.99 937.49 L880.17 937.68 L879.42 937.65 L878.77 937.4 L854.77 921.7 L854.23 921.26 L853.83 920.62 L853.58 919.83 L853.5 918.9 Z" fill="none" stroke="#a09db6" stroke-width="2" stroke-linejoin="round"/>
<path d="M993.2 795.8 L994.05 795.41 L994.86 795.22 L995.61 795.25 L996.26 795.5 L996.8 795.94 L997.2 796.58 L997.45 797.37 L997.53 798.3 L997.53 865.3 L997.45 866.32 L997.2 867.4 L996.8 868.5 L996.26 869.57 L995.61 870.57 L994.86 871.46 L994.05 872.22 L993.2 872.8 L881.83 937.1 L880.99 937.49 L880.17 937.68 L879.42 937.65 L878.77 937.4 L878.23 936.96 L877.83 936.32 L877.58 935.53 L877.5 934.6 L877.5 867.6 L877.58 866.58 L877.83 865.5 L878.23 864.4 L878.77 863.33 L879.42 862.33 L880.17 861.44 L880.99 860.68 L881.83 860.1 Z" fill="none" stroke="#a09db6" stroke-width="2"/>
<line x1="881.83" y1="860.1" x2="857.83" y2="844.4" stroke="#a09db6" stroke-width="2"/>
<line x1="877.5" y1="867.6" x2="853.5" y2="851.9" stroke="#a09db6" stroke-width="2"/>
<g clip-path="url(#clip29)">
<path d="M615.5 833.4 L615.58 832.38 L615.83 831.3 L616.23 830.2 L616.77 829.13 L617.42 828.13 L618.17 827.24 L618.99 826.48 L619.83 825.9 L731.2 761.6 L732.05 761.21 L732.86 761.02 L733.61 761.05 L734.26 761.3 L758.26 777 L758.8 777.44 L759.2 778.08 L759.45 778.87 L759.53 779.8 L759.53 846.8 L759.45 847.82 L759.2 848.9 L758.8 850 L758.26 851.07 L757.61 852.07 L756.86 852.96 L756.05 853.72 L755.2 854.3 L643.83 918.6 L642.99 918.99 L642.17 919.18 L641.42 919.15 L640.77 918.9 L616.77 903.2 L616.23 902.76 L615.83 902.12 L615.58 901.33 L615.5 900.4 Z" fill="#0d0c24"/>
<path d="M619.83 823.9 L739 755.1 L763 770.8 L643.83 839.6 Z" fill="#08071f"/>
<path d="M613.77 834.4 L613.77 910.4 L637.77 926.1 L637.77 850.1 Z" fill="#14132a"/>
<path d="M755.2 777.3 L756.05 776.91 L756.86 776.72 L757.61 776.75 L758.26 777 L758.8 777.44 L759.2 778.08 L759.45 778.87 L759.53 779.8 L759.53 846.8 L759.45 847.82 L759.2 848.9 L758.8 850 L758.26 851.07 L757.61 852.07 L756.86 852.96 L756.05 853.72 L755.2 854.3 L643.83 918.6 L642.99 918.99 L642.17 919.18 L641.42 919.15 L640.77 918.9 L640.23 918.46 L639.83 917.82 L639.58 917.03 L639.5 916.1 L639.5 849.1 L639.58 848.08 L639.83 847 L640.23 845.9 L640.77 844.83 L641.42 843.83 L642.17 842.94 L642.99 842.18 L643.83 841.6 Z" fill="#19182e"/>
<path d="M755.2 777.3 L756.05 776.91 L756.86 776.72 L757.61 776.75 L758.26 777 L758.8 777.44 L759.2 778.08 L759.45 778.87 L759.53 779.8 L759.53 846.8 L759.45 847.82 L759.2 848.9 L758.8 850 L758.26 851.07 L757.61 852.07 L756.86 852.96 L756.05 853.72 L755.2 854.3 L643.83 918.6 L642.99 918.99 L642.17 919.18 L641.42 919.15 L640.77 918.9 L640.23 918.46 L639.83 917.82 L639.58 917.03 L639.5 916.1 L639.5 849.1 L639.58 848.08 L639.83 847 L640.23 845.9 L640.77 844.83 L641.42 843.83 L642.17 842.94 L642.99 842.18 L643.83 841.6 Z" fill="url(#rg30)"/>
</g>
<path d="M615.5 833.4 L615.58 832.38 L615.83 831.3 L616.23 830.2 L616.77 829.13 L617.42 828.13 L618.17 827.24 L618.99 826.48 L619.83 825.9 L731.2 761.6 L732.05 761.21 L732.86 761.02 L733.61 761.05 L734.26 761.3 L758.26 777 L758.8 777.44 L759.2 778.08 L759.45 778.87 L759.53 779.8 L759.53 846.8 L759.45 847.82 L759.2 848.9 L758.8 850 L758.26 851.07 L757.61 852.07 L756.86 852.96 L756.05 853.72 L755.2 854.3 L643.83 918.6 L642.99 918.99 L642.17 919.18 L641.42 919.15 L640.77 918.9 L616.77 903.2 L616.23 902.76 L615.83 902.12 L615.58 901.33 L615.5 900.4 Z" fill="none" stroke="#a09db6" stroke-width="2" stroke-linejoin="round"/>
<path d="M755.2 777.3 L756.05 776.91 L756.86 776.72 L757.61 776.75 L758.26 777 L758.8 777.44 L759.2 778.08 L759.45 778.87 L759.53 779.8 L759.53 846.8 L759.45 847.82 L759.2 848.9 L758.8 850 L758.26 851.07 L757.61 852.07 L756.86 852.96 L756.05 853.72 L755.2 854.3 L643.83 918.6 L642.99 918.99 L642.17 919.18 L641.42 919.15 L640.77 918.9 L640.23 918.46 L639.83 917.82 L639.58 917.03 L639.5 916.1 L639.5 849.1 L639.58 848.08 L639.83 847 L640.23 845.9 L640.77 844.83 L641.42 843.83 L642.17 842.94 L642.99 842.18 L643.83 841.6 Z" fill="none" stroke="#a09db6" stroke-width="2"/>
<line x1="643.83" y1="841.6" x2="619.83" y2="825.9" stroke="#a09db6" stroke-width="2"/>
<line x1="639.5" y1="849.1" x2="615.5" y2="833.4" stroke="#a09db6" stroke-width="2"/>
<g clip-path="url(#clip17)">
<path d="M853.5 694.8 L853.58 693.78 L853.83 692.7 L854.23 691.6 L854.77 690.53 L855.42 689.53 L856.17 688.64 L856.99 687.88 L857.83 687.3 L969.2 623 L970.05 622.61 L970.86 622.42 L971.61 622.45 L972.26 622.7 L996.26 638.4 L996.8 638.84 L997.2 639.48 L997.45 640.27 L997.53 641.2 L997.53 709.2 L997.45 710.22 L997.2 711.3 L996.8 712.4 L996.26 713.47 L995.61 714.47 L994.86 715.36 L994.05 716.12 L993.2 716.7 L881.83 781 L880.99 781.39 L880.17 781.58 L879.42 781.55 L878.77 781.3 L854.77 765.6 L854.23 765.16 L853.83 764.52 L853.58 763.73 L853.5 762.8 Z" fill="#3e3868"/>
<path d="M857.83 685.3 L977 616.5 L1001 632.2 L881.83 701 Z" fill="#22243e"/>
<path d="M857.83 685.3 L977 616.5 L1001 632.2 L881.83 701 Z" fill="url(#rg18)"/>
<path d="M857.83 685.3 L977 616.5 L1001 632.2 L881.83 701 Z" fill="url(#rg19)"/>
<path d="M851.77 695.8 L851.77 772.8 L875.77 788.5 L875.77 711.5 Z" fill="#332d4c"/>
<path d="M851.77 695.8 L851.77 772.8 L875.77 788.5 L875.77 711.5 Z" fill="url(#rg20)"/>
<path d="M993.2 638.7 L994.05 638.31 L994.86 638.12 L995.61 638.15 L996.26 638.4 L996.8 638.84 L997.2 639.48 L997.45 640.27 L997.53 641.2 L997.53 709.2 L997.45 710.22 L997.2 711.3 L996.8 712.4 L996.26 713.47 L995.61 714.47 L994.86 715.36 L994.05 716.12 L993.2 716.7 L881.83 781 L880.99 781.39 L880.17 781.58 L879.42 781.55 L878.77 781.3 L878.23 780.86 L877.83 780.22 L877.58 779.43 L877.5 778.5 L877.5 710.5 L877.58 709.48 L877.83 708.4 L878.23 707.3 L878.77 706.23 L879.42 705.23 L880.17 704.34 L880.99 703.58 L881.83 703 Z" fill="#38325a"/>
<path d="M993.2 638.7 L994.05 638.31 L994.86 638.12 L995.61 638.15 L996.26 638.4 L996.8 638.84 L997.2 639.48 L997.45 640.27 L997.53 641.2 L997.53 709.2 L997.45 710.22 L997.2 711.3 L996.8 712.4 L996.26 713.47 L995.61 714.47 L994.86 715.36 L994.05 716.12 L993.2 716.7 L881.83 781 L880.99 781.39 L880.17 781.58 L879.42 781.55 L878.77 781.3 L878.23 780.86 L877.83 780.22 L877.58 779.43 L877.5 778.5 L877.5 710.5 L877.58 709.48 L877.83 708.4 L878.23 707.3 L878.77 706.23 L879.42 705.23 L880.17 704.34 L880.99 703.58 L881.83 703 Z" fill="url(#rg21)"/>
<path d="M993.2 638.7 L994.05 638.31 L994.86 638.12 L995.61 638.15 L996.26 638.4 L996.8 638.84 L997.2 639.48 L997.45 640.27 L997.53 641.2 L997.53 709.2 L997.45 710.22 L997.2 711.3 L996.8 712.4 L996.26 713.47 L995.61 714.47 L994.86 715.36 L994.05 716.12 L993.2 716.7 L881.83 781 L880.99 781.39 L880.17 781.58 L879.42 781.55 L878.77 781.3 L878.23 780.86 L877.83 780.22 L877.58 779.43 L877.5 778.5 L877.5 710.5 L877.58 709.48 L877.83 708.4 L878.23 707.3 L878.77 706.23 L879.42 705.23 L880.17 704.34 L880.99 703.58 L881.83 703 Z" fill="url(#rg22)"/>
<path d="M993.2 638.7 L994.05 638.31 L994.86 638.12 L995.61 638.15 L996.26 638.4 L996.8 638.84 L997.2 639.48 L997.45 640.27 L997.53 641.2 L997.53 709.2 L997.45 710.22 L997.2 711.3 L996.8 712.4 L996.26 713.47 L995.61 714.47 L994.86 715.36 L994.05 716.12 L993.2 716.7 L881.83 781 L880.99 781.39 L880.17 781.58 L879.42 781.55 L878.77 781.3 L878.23 780.86 L877.83 780.22 L877.58 779.43 L877.5 778.5 L877.5 710.5 L877.58 709.48 L877.83 708.4 L878.23 707.3 L878.77 706.23 L879.42 705.23 L880.17 704.34 L880.99 703.58 L881.83 703 Z" fill="url(#rg23)"/>
<path d="M993.2 638.7 L994.05 638.31 L994.86 638.12 L995.61 638.15 L996.26 638.4 L996.8 638.84 L997.2 639.48 L997.45 640.27 L997.53 641.2 L997.53 709.2 L997.45 710.22 L997.2 711.3 L996.8 712.4 L996.26 713.47 L995.61 714.47 L994.86 715.36 L994.05 716.12 L993.2 716.7 L881.83 781 L880.99 781.39 L880.17 781.58 L879.42 781.55 L878.77 781.3 L878.23 780.86 L877.83 780.22 L877.58 779.43 L877.5 778.5 L877.5 710.5 L877.58 709.48 L877.83 708.4 L878.23 707.3 L878.77 706.23 L879.42 705.23 L880.17 704.34 L880.99 703.58 L881.83 703 Z" fill="url(#rg24)"/>
<path d="M993.2 638.7 L994.05 638.31 L994.86 638.12 L995.61 638.15 L996.26 638.4 L996.8 638.84 L997.2 639.48 L997.45 640.27 L997.53 641.2 L997.53 709.2 L997.45 710.22 L997.2 711.3 L996.8 712.4 L996.26 713.47 L995.61 714.47 L994.86 715.36 L994.05 716.12 L993.2 716.7 L881.83 781 L880.99 781.39 L880.17 781.58 L879.42 781.55 L878.77 781.3 L878.23 780.86 L877.83 780.22 L877.58 779.43 L877.5 778.5 L877.5 710.5 L877.58 709.48 L877.83 708.4 L878.23 707.3 L878.77 706.23 L879.42 705.23 L880.17 704.34 L880.99 703.58 L881.83 703 Z" fill="url(#rg25)"/>
<path d="M993.2 638.7 L994.05 638.31 L994.86 638.12 L995.61 638.15 L996.26 638.4 L996.8 638.84 L997.2 639.48 L997.45 640.27 L997.53 641.2 L997.53 709.2 L997.45 710.22 L997.2 711.3 L996.8 712.4 L996.26 713.47 L995.61 714.47 L994.86 715.36 L994.05 716.12 L993.2 716.7 L881.83 781 L880.99 781.39 L880.17 781.58 L879.42 781.55 L878.77 781.3 L878.23 780.86 L877.83 780.22 L877.58 779.43 L877.5 778.5 L877.5 710.5 L877.58 709.48 L877.83 708.4 L878.23 707.3 L878.77 706.23 L879.42 705.23 L880.17 704.34 L880.99 703.58 L881.83 703 Z" fill="url(#rg26)"/>
</g>
<path d="M853.5 694.8 L853.58 693.78 L853.83 692.7 L854.23 691.6 L854.77 690.53 L855.42 689.53 L856.17 688.64 L856.99 687.88 L857.83 687.3 L969.2 623 L970.05 622.61 L970.86 622.42 L971.61 622.45 L972.26 622.7 L996.26 638.4 L996.8 638.84 L997.2 639.48 L997.45 640.27 L997.53 641.2 L997.53 709.2 L997.45 710.22 L997.2 711.3 L996.8 712.4 L996.26 713.47 L995.61 714.47 L994.86 715.36 L994.05 716.12 L993.2 716.7 L881.83 781 L880.99 781.39 L880.17 781.58 L879.42 781.55 L878.77 781.3 L854.77 765.6 L854.23 765.16 L853.83 764.52 L853.58 763.73 L853.5 762.8 Z" fill="none" stroke="#ffffff" stroke-width="2.2" stroke-linejoin="round"/>
<path d="M993.2 638.7 L994.05 638.31 L994.86 638.12 L995.61 638.15 L996.26 638.4 L996.8 638.84 L997.2 639.48 L997.45 640.27 L997.53 641.2 L997.53 709.2 L997.45 710.22 L997.2 711.3 L996.8 712.4 L996.26 713.47 L995.61 714.47 L994.86 715.36 L994.05 716.12 L993.2 716.7 L881.83 781 L880.99 781.39 L880.17 781.58 L879.42 781.55 L878.77 781.3 L878.23 780.86 L877.83 780.22 L877.58 779.43 L877.5 778.5 L877.5 710.5 L877.58 709.48 L877.83 708.4 L878.23 707.3 L878.77 706.23 L879.42 705.23 L880.17 704.34 L880.99 703.58 L881.83 703 Z" fill="none" stroke="#ffffff" stroke-width="2.2"/>
<line x1="881.83" y1="703" x2="857.83" y2="687.3" stroke="#ffffff" stroke-width="2.2"/>
<line x1="877.5" y1="710.5" x2="853.5" y2="694.8" stroke="#ffffff" stroke-width="2.2"/>

<!-- glow path -->
<path d="M1170 398 L1032 477.6 Q1025 481.6 1025 489.6" fill="none" stroke="url(#hdiag)" stroke-width="16" filter="url(#blur5)"/>
<path d="M1025 486 L1025 651 Q1025 659 1018 663 L1000 674" fill="none" stroke="url(#hvert)" stroke-width="17" filter="url(#blur5)"/>
<path d="M1176.8 394 L1032 477.6 Q1025 481.6 1025 489.6" fill="none" stroke="url(#gdiag)" stroke-width="3" stroke-linecap="round"/>
<path d="M1025 486 L1025 650 Q1025 657.5 1018.5 661.5" fill="none" stroke="url(#gvert)" stroke-width="3"/>
<path d="M1019 661.2 L997.5 674" fill="none" stroke="url(#gbot)" stroke-width="3" stroke-linecap="round"/>
<circle cx="1024.5" cy="575.3" r="7.2" fill="#ffffff" stroke="#9a96aa" stroke-width="2.2"/>
<defs><linearGradient id="glbl" gradientUnits="userSpaceOnUse" x1="1030" y1="579" x2="1141.5" y2="700"><stop offset="0" stop-color="#4e4a70"/><stop offset="0.45" stop-color="#77739a"/><stop offset="1" stop-color="#d8d4ea"/></linearGradient></defs>
<path d="M1030 578.7 L1132 637.6 Q1141.4 643 1141.4 654 L1141.4 768" fill="none" stroke="url(#glbl)" stroke-width="1.2"/>
<circle cx="1141.5" cy="768.4" r="3.4" fill="#ffffff"/>

<!-- dots -->
<ellipse cx="1070.8" cy="322.5" rx="11" ry="15" fill="#c8c8e8" opacity="0.4" filter="url(#blur5)" transform="rotate(30 1070.8 322.5)"/>
<ellipse cx="1070.8" cy="322.5" rx="5.1" ry="10.2" fill="#fff" transform="rotate(30 1070.8 322.5)"/>
<ellipse cx="627" cy="584.4" rx="11" ry="15" fill="#c8c8e8" opacity="0.4" filter="url(#blur5)" transform="rotate(30 627 584.4)"/>
<ellipse cx="627" cy="584.4" rx="5.1" ry="10.2" fill="#fff" transform="rotate(30 627 584.4)"/>
<ellipse cx="1177" cy="393.8" rx="4.5" ry="6.5" fill="#8a80f0" opacity="0.5" filter="url(#blur2)" transform="rotate(-30 1177 393.8)"/>
<ellipse cx="1177" cy="393.8" rx="2.7" ry="4.6" fill="#a69ef8" transform="rotate(-30 1177 393.8)"/>

<!-- workspace labels -->
<text class="lbl" opacity="0.995" transform="matrix(0.8660 0.5000 -0.8660 0.5000 727.4 378.6)" font-size="24" letter-spacing="4.37" fill="#e6e5f5">NX WORKSPACE 2</text>
<text class="lbl" opacity="0.995" transform="matrix(0.8660 0.5000 -0.8660 0.5000 280.45 644.65)" font-size="24" letter-spacing="4.37" fill="#e6e5f5">NX WORKSPACE</text>
<path transform="matrix(0.8660 0.5000 -0.8660 0.5000 280.45 644.65)" d="M264.6 0.4 L264.6 -16.4 L258.7 -12.6" fill="none" stroke="#e6e5f5" stroke-width="1.9" stroke-linejoin="round" vector-effect="non-scaling-stroke"/>

<!-- project graph -->
<line x1="1340" y1="516" x2="1654" y2="516" stroke="#77738f" stroke-width="2"/>
<text class="lbl" opacity="0.995" x="1654" y="549" text-anchor="end" font-size="18.2" font-weight="bold" fill="#f2f2fa">Project graph</text>

<text class="lbl" opacity="0.995" x="1163.5" y="769" font-size="24" letter-spacing="0.55" fill="#e6e5f2">Cross-workspace</text>
<text class="lbl" opacity="0.995" x="1163.5" y="801" font-size="24" letter-spacing="0.55" fill="#e6e5f2">dependency</text>
</svg>
</body></html>
